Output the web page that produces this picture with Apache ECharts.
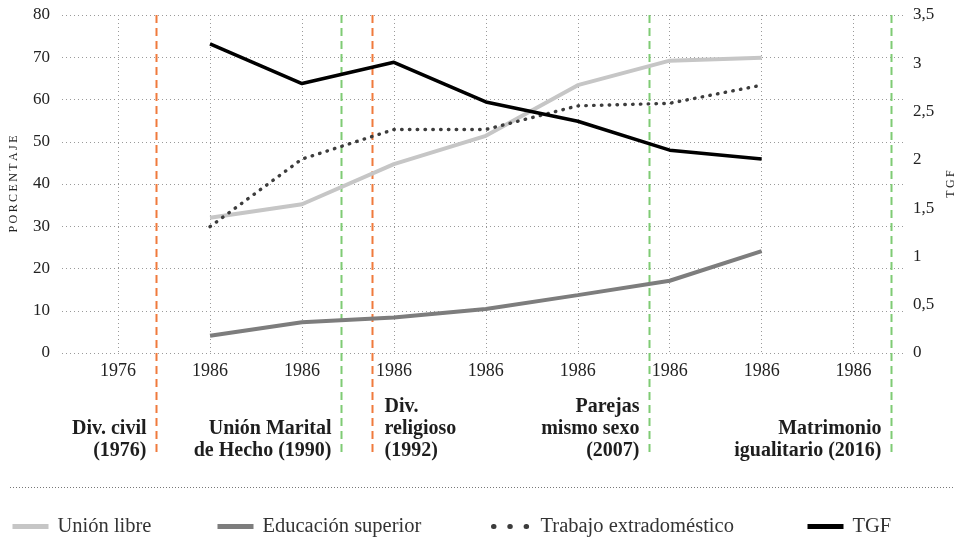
<!DOCTYPE html>
<html>
<head>
<meta charset="utf-8">
<script src="https://cdn.jsdelivr.net/npm/echarts@6/dist/echarts.min.js"></script>
<style>
html, body { margin: 0; padding: 0; background: #fff; }
#main { width: 957px; height: 538px; }
</style>
</head>
<body>
<div id="main"></div>
<script>
// etiquetas del eje x (posiciones 0..8)
var xLabels = ['1976', '1986', '1986', '1986', '1986', '1986', '1986', '1986', '1986'];
// las series empiezan en la posicion 1
var startIdx = 1;
var unionLibre = [32.0, 35.2, 44.7, 51.4, 63.4, 69.2, 69.9];
var educacion = [4.1, 7.3, 8.4, 10.4, 13.7, 17.1, 24.1];
var trabajo = [29.9, 45.9, 52.9, 52.9, 58.5, 59.1, 63.4];
var tgf = [3.2, 2.79, 3.01, 2.6, 2.4, 2.1, 2.01];

// hitos legales (posicion sobre el eje x)
var eventPos = [0.41, 2.43, 2.76, 5.77, 8.41];
var eventKind = ['div', 'union', 'div', 'union', 'union'];
var eventText = ['Div. civil\n(1976)', 'Unión Marital\nde Hecho (1990)', 'Div.\nreligioso\n(1992)', 'Parejas\nmismo sexo\n(2007)', 'Matrimonio\nigualitario (2016)'];
var eventSide = ['left', 'left', 'right', 'left', 'left'];

var serif = '"Liberation Serif", "DejaVu Serif", serif';
var thin = '\u2009';

function toPairs(arr){
	var out = [];
	for (var i = 0; i < arr.length; i++) {
		out.push([startIdx + i, arr[i]]);
	}
	return out;
}

function spaced(s){
	return s.split('').join(thin);
}

function grafico(){
	var myCharts = echarts.init(document.getElementById('main'));
	var gridColors = ['rgba(0,0,0,0)'];
	for (var i = 0; i < xLabels.length; i++) gridColors.push('#9a9a9a');
	gridColors.push('rgba(0,0,0,0)');

	var legendBase = {
		top: 516,
		padding: 0,
		itemWidth: 36,
		itemHeight: 10,
		itemStyle: { opacity: 0 },
		lineStyle: { width: 5 },
		textStyle: { fontFamily: serif, fontSize: 20.5, color: '#333', padding: [0, 0, 0, 4] }
	};

	var option = {
		animation: false,
		grid: { left: 62, right: 51, top: 15, bottom: 185, outerBoundsMode: 'none', containLabel: false },
		xAxis: {
			type: 'value',
			min: -0.61,
			max: 8.57,
			splitNumber: 9,
			axisLine: { show: false },
			axisTick: { show: false },
			axisLabel: {
				margin: 9,
				fontFamily: serif, fontSize: 18, color: '#222',
				formatter: function (v) {
					var k = Math.round(v);
					if (Math.abs(v - k) > 1e-6) return '';
					return xLabels[k] || '';
				}
			},
			splitLine: { show: true, lineStyle: { color: gridColors, type: [1, 3], width: 1 } }
		},
		yAxis: [
			{
				type: 'value', min: 0, max: 80, interval: 10,
				name: spaced('PORCENTAJE'), nameLocation: 'middle', nameGap: 42, nameRotate: 90,
				nameTextStyle: { fontFamily: serif, fontSize: 12, color: '#222' },
				axisLine: { show: false }, axisTick: { show: false },
				axisLabel: { margin: 12, fontFamily: serif, fontSize: 17, color: '#222' },
				splitLine: { lineStyle: { color: '#9a9a9a', type: [1, 3], width: 1 } }
			},
			{
				type: 'value', min: 0, max: 3.5, interval: 0.5, position: 'right',
				name: spaced('TGF'), nameLocation: 'middle', nameGap: 39, nameRotate: 90,
				nameTextStyle: { fontFamily: serif, fontSize: 12, color: '#222' },
				axisLine: { show: false }, axisTick: { show: false },
				axisLabel: {
					margin: 7, fontFamily: serif, fontSize: 17, color: '#222',
					formatter: function (v) { return String(v).replace('.', ','); }
				},
				splitLine: { show: false }
			}
		],
		legend: [
			echarts.util.merge({ left: 10, data: ['Unión libre'] }, legendBase, false),
			echarts.util.merge({ left: 215, data: ['Educación superior'] }, legendBase, false),
			echarts.util.merge({ left: 491, itemWidth: 38, data: ['Trabajo extradoméstico'],
				lineStyle: { width: 5, type: [0.5, 15.8], cap: 'round' } }, legendBase, false),
			echarts.util.merge({ left: 805, data: ['TGF'] }, legendBase, false)
		],
		series: [
			{
				name: 'Unión libre', type: 'line', yAxisIndex: 0,
				symbol: 'none', data: toPairs(unionLibre),
				lineStyle: { color: '#c6c6c6', width: 4 }, itemStyle: { color: '#c6c6c6' }
			},
			{
				name: 'Educación superior', type: 'line', yAxisIndex: 0,
				symbol: 'none', data: toPairs(educacion),
				lineStyle: { color: '#7d7d7d', width: 4 }, itemStyle: { color: '#7d7d7d' }
			},
			{
				name: 'Trabajo extradoméstico', type: 'line', yAxisIndex: 0,
				symbol: 'none', data: toPairs(trabajo),
				lineStyle: { color: '#3c3c3c', width: 3.4, type: [0.5, 7.3], cap: 'round' },
				itemStyle: { color: '#3c3c3c' }
			},
			{
				name: 'TGF', type: 'line', yAxisIndex: 1,
				symbol: 'none', data: toPairs(tgf),
				lineStyle: { color: '#000', width: 3.5 }, itemStyle: { color: '#000' }
			}
		]
	};
	myCharts.setOption(option);

	// lineas de hitos y textos, ubicadas con la escala del eje x
	var graphics = [];
	var top = myCharts.convertToPixel({ yAxisIndex: 0 }, 80);
	for (var j = 0; j < eventPos.length; j++) {
		var px = Math.round(myCharts.convertToPixel({ xAxisIndex: 0 }, eventPos[j])) + 0.5;
		var col = eventKind[j] === 'div' ? '#f07a3c' : '#7fcb74';
		graphics.push({
			type: 'line', silent: true,
			shape: { x1: px, y1: top, x2: px, y2: 456 },
			style: { stroke: col, lineWidth: 2, lineDash: [8, 5] }
		});
		var right = eventSide[j] === 'right';
		graphics.push({
			type: 'text', silent: true,
			x: right ? px + 12 : px - 10,
			y: 462,
			style: {
				text: eventText[j],
				align: right ? 'left' : 'right',
				verticalAlign: 'bottom',
				font: 'bold 20px ' + serif,
				lineHeight: 22,
				fill: '#1e1e1e'
			}
		});
	}
	graphics.push({
		type: 'line', silent: true,
		shape: { x1: 10, y1: 487.5, x2: 955, y2: 487.5 },
		style: { stroke: '#777', lineWidth: 1, lineDash: [1, 2] }
	});
	myCharts.setOption({ graphic: graphics });
}

grafico();
</script>
</body>
</html>
